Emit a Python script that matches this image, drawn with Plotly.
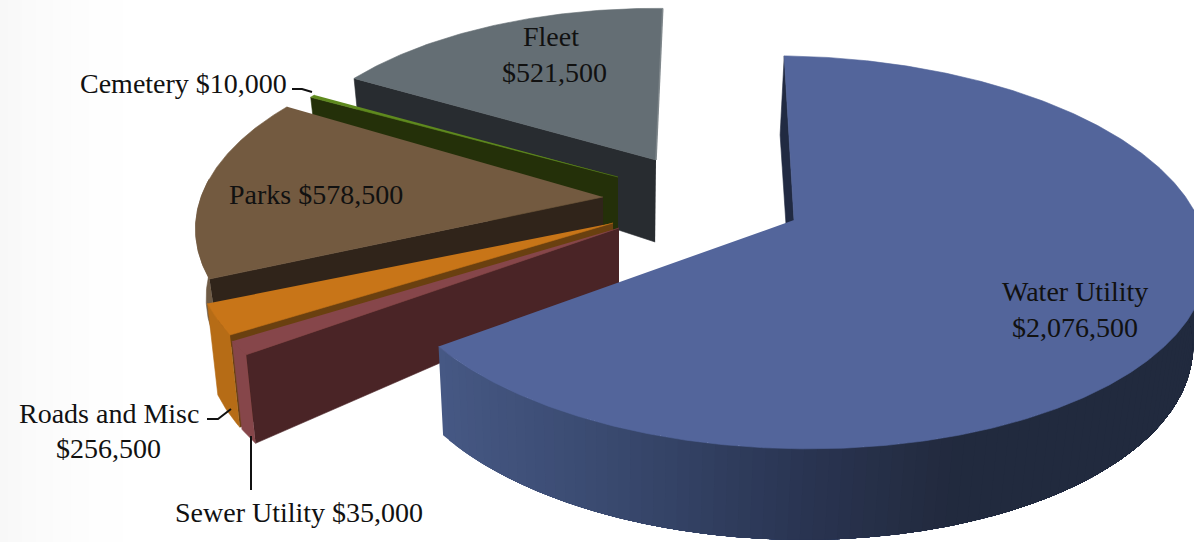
import numpy as np
import plotly.graph_objects as go

# Budget by department, in clockwise order from the top of the pie
names = ["Water Utility", "Sewer Utility", "Roads and Misc", "Parks", "Cemetery", "Fleet"]
values = [2076500, 35000, 256500, 578500, 10000, 521500]

# Screen angles each slice opens and closes at under the tilted 3D view (degrees clockwise from back)
view_start = [-1.6, 234, 238, 246.0, 299, 300]
view_end = [231.4, 238, 247, 301.4, 300, 361.2]

# Projection of the pie plane
AX, BY, PERSP = 408.0, 191.0, 0.165
VANISH_X, SHRINK = 620.0, 0.025

# Per-slice placement and colours, same order as names
slices = [
    dict(apex=(794, 220), r=1.00, skew=8, d_apex=60, d_rim=85, top="#53659b", cut="#212a42", rim=None),
    dict(apex=(619, 228), r=1.02, skew=0, d_apex=57, d_rim=85, top="#86464a", cut="#4a2426", rim="#86464a"),
    dict(apex=(613, 223), r=1.01, skew=0, d_apex=50, d_rim=89, top="#c87518", cut="#6a4010", rim="#b66c16"),
    dict(apex=(603, 197), r=0.985, skew=0, d_apex=60, d_rim=68, top="#735a40", cut="#30241a", rim="#6e5a44"),
    dict(apex=(618, 177), r=0.93, skew=0, d_apex=85, d_rim=70, top="#5f8a1e", cut="#243009", rim="#243009"),
    dict(apex=(656, 160), r=0.925, skew=0, d_apex=82, d_rim=70, top="#646e74", cut="#282c30", rim="#282c30"),
]

# Side shading of the water slice, by screen x
side_x = [440, 600, 800, 950, 1200]
side_rgb = [(70, 88, 132), (58, 74, 112), (42, 53, 82), (34, 42, 62), (33, 42, 62)]


def slice_bounds():
    # Cumulative value angles carried through the view's angle mapping
    cum = np.concatenate([[0.0], np.cumsum(values) / np.sum(values) * 360.0])
    return [tuple(np.interp([cum[i], cum[i + 1]], [cum[i], cum[i + 1]], [view_start[i], view_end[i]]))
            for i in range(len(values))]


def project(theta_deg, s):
    apex, r = s["apex"], s["r"]
    t = np.radians(theta_deg)
    denom = 1 + PERSP * np.cos(t)
    x = apex[0] + r * AX * np.sin(t) / denom
    y = apex[1] - r * BY * np.cos(t) / denom + s["skew"] * np.sin(t)
    return x, y


def drop(x, y, d):
    return x + (VANISH_X - x) * SHRINK, y + d


def poly(fig, xs, ys, color, width=0.6):
    fig.add_trace(go.Scatter(x=list(xs), y=list(ys), mode="lines", fill="toself", fillcolor=color,
                             line=dict(color=color, width=width), hoverinfo="skip", showlegend=False))


def draw_slice(fig, th0, th1, s):
    apex = s["apex"]
    thetas = np.linspace(th0, th1, max(int((th1 - th0) * 2), 3))
    x_top, y_top = project(thetas, s)
    depth = s["d_rim"] - 6 * np.cos(np.radians(thetas))
    x_bot, y_bot = drop(x_top, y_top, depth)

    # cut face along the clockwise-start edge
    ax_b, ay_b = drop(apex[0], apex[1], s["d_apex"])
    poly(fig, [apex[0], x_top[0], x_bot[0], ax_b], [apex[1], y_top[0], y_bot[0], ay_b], s["cut"])

    # outer rim, front-facing part only
    front = np.cos(np.radians(thetas)) < 0.1
    if front.sum() >= 2:
        xt, yt, xb, yb = x_top[front], y_top[front], x_bot[front], y_bot[front]
        if s["rim"] is None:
            # painted left to right, each band reaching the far end so no seams show
            for i in range(len(xt) - 1, 0, -3):
                rgb = [int(np.interp(xt[i], side_x, [c[k] for c in side_rgb])) for k in range(3)]
                col = f"rgb({rgb[0]},{rgb[1]},{rgb[2]})"
                poly(fig, np.r_[xt[:i + 1], xb[:i + 1][::-1]], np.r_[yt[:i + 1], yb[:i + 1][::-1]], col, 0)
        else:
            poly(fig, np.r_[xt, xb[::-1]], np.r_[yt, yb[::-1]], s["rim"])

    # top face
    poly(fig, np.r_[apex[0], x_top], np.r_[apex[1], y_top], s["top"])


fig = go.Figure()

# Faint grey wash along the left side of the page
fig.add_trace(go.Heatmap(x=[0, 40, 90, 140], y=[0, 542], z=[[0, 0.4, 0.8, 1], [0, 0.4, 0.8, 1]],
                         colorscale=[[0, "#f8f8f8"], [1, "#ffffff"]], zsmooth="best",
                         showscale=False, hoverinfo="skip"))

bounds = slice_bounds()
for idx in [5, 4, 3, 2, 1, 0]:
    draw_slice(fig, bounds[idx][0], bounds[idx][1], slices[idx])
    if idx == 5:
        # lighter bevel down the closing edge of the fleet slice
        ex, ey = project(bounds[5][1], slices[5])
        fig.add_trace(go.Scatter(x=[ex, slices[5]["apex"][0]], y=[ey, slices[5]["apex"][1]], mode="lines",
                                 line=dict(color="#7f878b", width=1.5), hoverinfo="skip", showlegend=False))

# Leader lines
leaders = [
    ([292, 302, 312], [89, 89, 92]),
    ([207, 218, 231], [419, 419, 409]),
    ([251, 251], [436, 490]),
]
for lx, ly in leaders:
    fig.add_trace(go.Scatter(x=lx, y=ly, mode="lines", line=dict(color="#111111", width=2),
                             hoverinfo="skip", showlegend=False))


def money(v):
    return f"${v:,.0f}"


labels = [
    (names[5], 551, 36), (money(values[5]), 554, 72),
    (f"{names[4]} {money(values[4])}", 183, 83),
    (f"{names[3]} {money(values[3])}", 316, 194),
    (names[0], 1075, 291), (money(values[0]), 1075, 327),
    (names[2], 109, 413), (money(values[2]), 108, 448),
    (f"{names[1]} {money(values[1])}", 299, 512),
]
for text, lx, ly in labels:
    fig.add_annotation(x=lx, y=ly, text=text, showarrow=False, xanchor="center", yanchor="middle",
                       font=dict(family="Liberation Serif", size=28, color="#111111"))

fig.update_xaxes(range=[0, 1194], visible=False, fixedrange=True)
fig.update_yaxes(range=[542, 0], visible=False, fixedrange=True)
fig.update_layout(width=1194, height=542, margin=dict(l=0, r=0, t=0, b=0),
                  paper_bgcolor="white", plot_bgcolor="white", showlegend=False)
fig.write_html("out.html", config=dict(displayModeBar=False))
